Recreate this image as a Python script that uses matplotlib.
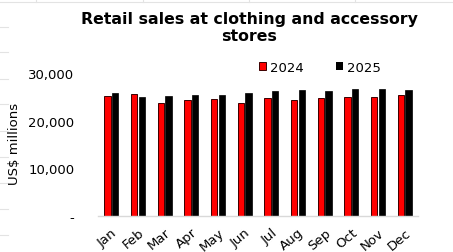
import numpy as np
import matplotlib.pyplot as plt
from matplotlib.lines import Line2D
from matplotlib.patches import Patch

# data (US$ millions)
months = ["Jan", "Feb", "Mar", "Apr", "May", "Jun",
          "Jul", "Aug", "Sep", "Oct", "Nov", "Dec"]
sales_2024 = [25260, 25680, 23780, 24480, 24690, 23780,
              24830, 24480, 24830, 25110, 25110, 25470]
sales_2025 = [25890, 25110, 25260, 25470, 25470, 25890,
              26380, 26520, 26310, 26730, 26730, 26520]
y_ticks = [0, 10000, 20000, 30000]
y_tick_labels = ["-", "10,000", "20,000", "30,000"]

W, H = 453, 253
fig = plt.figure(figsize=(W / 100, H / 100), dpi=100)
fig.patch.set_facecolor("white")

# faint spreadsheet cell lines peeking out around the chart
grid_c = "#e3e3e3"
for yy in [28, 53, 80, 105, 132, 158, 184, 210, 236]:
    fig.add_artist(Line2D([0, 8 / W], [1 - yy / H] * 2, color=grid_c, lw=0.8))
for xx in [36, 143, 249, 355]:
    fig.add_artist(Line2D([xx / W] * 2, [1, 1 - 3 / H], color=grid_c, lw=0.8))
fig.add_artist(Line2D([0, 1], [1 - 2.5 / H] * 2, color=grid_c, lw=0.8))

ax = fig.add_axes([98 / W, 1 - 216.7 / H, 320 / W, (216.7 - 74.5) / H])

x = np.arange(len(months))
w = 0.24
ax.bar(x - 0.14, sales_2024, width=w, color="#ff0000", edgecolor="#3a0000", linewidth=0.7)
ax.bar(x + 0.14, sales_2025, width=w, color="#000000", edgecolor="#000000", linewidth=0.5)

ax.set_xlim(-0.5, len(months) - 0.5)
ax.set_ylim(0, 30000)
ax.set_yticks(y_ticks)
ax.set_yticklabels(y_tick_labels, fontsize=9.5)
ax.set_xticks(x)
ax.set_xticklabels(months, fontsize=9.5, rotation=40, ha="right", va="top",
                   rotation_mode="anchor")
ax.tick_params(axis="both", length=0)
ax.tick_params(axis="y", pad=17)
ax.tick_params(axis="x", pad=7)

for s in ["top", "right", "left"]:
    ax.spines[s].set_visible(False)
ax.spines["bottom"].set_color("#d9d9d9")
ax.spines["bottom"].set_linewidth(1)

fig.text(15 / W, 1 - 144 / H, "US$ millions", rotation=90, ha="center", va="center",
         fontsize=9.5)

fig.text(249 / W, 1 - 12 / H, "Retail sales at clothing and accessory\nstores",
         ha="center", va="top", fontsize=11.3, fontweight="heavy", linespacing=1.2)

handles = [Patch(facecolor="#ff0000", edgecolor="#3a0000", lw=0.7),
           Patch(facecolor="#000000")]
fig.legend(handles, ["2024", "2025"], loc="center", ncol=2, frameon=False,
           bbox_to_anchor=(320 / W, 1 - 68 / H), fontsize=9.5,
           handlelength=0.5, handleheight=0.6, handletextpad=0.3, columnspacing=2.5)

fig.savefig("out.png", dpi=100)
